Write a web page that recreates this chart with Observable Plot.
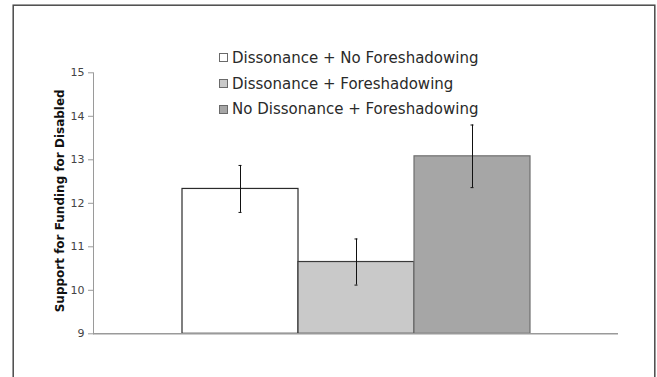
<!DOCTYPE html>
<html>
<head>
<meta charset="utf-8">
<script src="https://cdn.jsdelivr.net/npm/d3@7"></script>
<script src="https://cdn.jsdelivr.net/npm/@observablehq/plot@0.6"></script>
<style>
  html, body { margin: 0; padding: 0; background: #fff; }
  #wrap { position: relative; width: 657px; height: 377px; overflow: hidden; }
  #wrap svg { position: absolute; left: 0; top: 0; }
  #legend { position: absolute; left: 219px; top: 45px; font-family: "DejaVu Sans", Verdana, sans-serif; font-size: 15px; color: #2a2a2a; }
  #legend .row { display: flex; align-items: center; height: 25.8px; white-space: nowrap; }
  #legend .sw { width: 7px; height: 7px; border: 1px solid #6a6a6a; margin-right: 4px; flex: none; }
</style>
</head>
<body>
<div id="wrap"><div id="legend"></div></div>
<script>
// Conditions, group means and error-bar half widths
const categories = ["Dissonance + No Foreshadowing", "Dissonance + Foreshadowing", "No Dissonance + Foreshadowing"];
const means = [12.33, 10.65, 13.08];
const errors = [0.54, 0.53, 0.72];
const fills = ["#ffffff", "#c9c9c9", "#a6a6a6"];
const strokes = ["#2b2b2b", "#3a3a3a", "#6f6f6f"];
const yTicks = [9, 10, 11, 12, 13, 14, 15];
const yLabel = "Support for Funding for Disabled";

const rows = categories.map((c, i) => ({
  category: c, mean: means[i], lo: means[i] - errors[i], hi: means[i] + errors[i],
  fill: fills[i], stroke: strokes[i]
}));

const chart = Plot.plot({
  width: 657,
  height: 377,
  marginLeft: 93,
  marginRight: 39,
  marginTop: 72.3,
  marginBottom: 43.7,
  style: { background: "transparent", fontFamily: "DejaVu Sans, Verdana, sans-serif", fontSize: "11px", color: "#444" },
  x: { type: "band", domain: categories, paddingInner: 0, paddingOuter: 0.755, axis: null },
  y: { domain: [9, 15], axis: null },
  marks: [
    // outer chart border
    Plot.frame({ stroke: "#4a4a4a", strokeWidth: 1.5, insetLeft: -80.3, insetTop: -67.6, insetRight: -36.3, insetBottom: -60 }),
    Plot.barY(rows, { x: "category", y1: 9, y2: "mean", fill: "fill", stroke: "stroke", strokeWidth: 1.2 }),
    Plot.ruleY([9], { stroke: "#9a9a9a", strokeWidth: 1.5 }),
    // value axis line
    Plot.frame({ anchor: "left", stroke: "#9a9a9a" }),
    Plot.axisY({ ticks: yTicks, tickFormat: "d", tickSize: 5, tickPadding: 4, stroke: "#9a9a9a", fill: "#444", label: null, fontSize: 11 }),
    // error bars with small caps
    Plot.ruleX(rows, { x: "category", y1: "lo", y2: "hi", stroke: "#111", strokeWidth: 1 }),
    Plot.tickY(rows, { x: "category", y: "lo", stroke: "#111", insetLeft: 56.5, insetRight: 56.5 }),
    Plot.tickY(rows, { x: "category", y: "hi", stroke: "#111", insetLeft: 56.5, insetRight: 56.5 }),
    Plot.text([yLabel], { text: d => d, frameAnchor: "left", textAnchor: "middle", dx: -33, dy: -2.5, rotate: -90, fontWeight: "bold", fontSize: 12, fill: "#111" })
  ]
});

const wrap = document.getElementById("wrap");
wrap.insertBefore(chart, wrap.firstChild);

// legend: one swatch per condition
const legend = d3.select("#legend");
categories.forEach((c, i) => {
  const row = legend.append("div").attr("class", "row");
  row.append("span").attr("class", "sw").style("background", fills[i]);
  row.append("span").text(c);
});
</script>
</body>
</html>
